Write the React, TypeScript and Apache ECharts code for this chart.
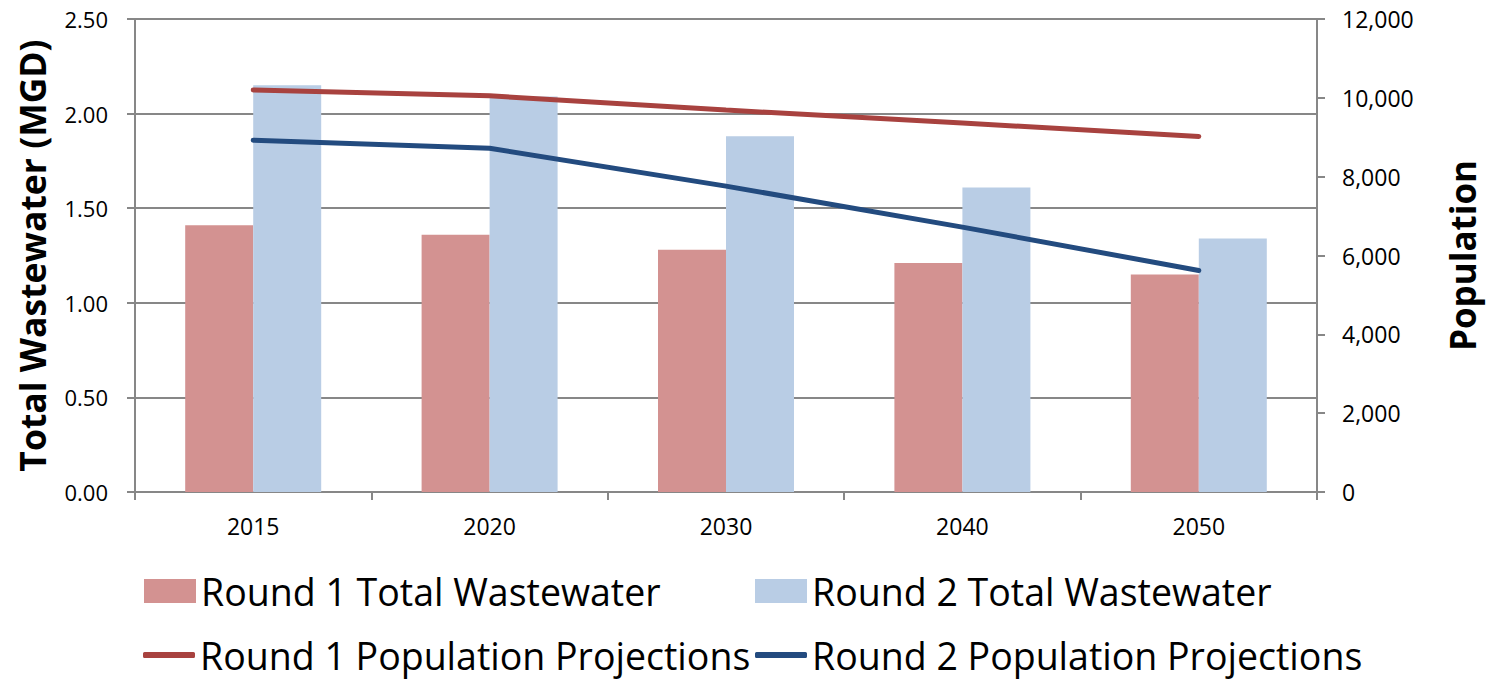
import React, { useEffect, useRef } from "react";
import * as echarts from "echarts";

const years = ["2015", "2020", "2030", "2040", "2050"];
const round1Wastewater = [1.41, 1.36, 1.28, 1.21, 1.15];
const round2Wastewater = [2.15, 2.09, 1.88, 1.61, 1.34];
const round1Population = [10200, 10050, 9690, 9360, 9020];
const round2Population = [8925, 8720, 7760, 6720, 5620];

const FONT = "'Open Sans', Lato, sans-serif";
const GRAY = "#878787";
const C_BAR1 = "#D39291";
const C_BAR2 = "#B9CDE5";
const C_LINE1 = "#A8423F";
const C_LINE2 = "#234B7F";

export default function App() {
  const ref = useRef<HTMLDivElement>(null);
  useEffect(() => {
    if (!ref.current) return;
    const chart = echarts.init(ref.current, undefined, { renderer: "svg" });
    const legendBase = {
      orient: "horizontal",
      padding: 0,
      itemWidth: 52,
      itemHeight: 24,
      itemGap: 0,
      textStyle: { fontSize: 37.5, lineHeight: 40, color: "#000", fontFamily: FONT },
      selectedMode: false,
    };
    chart.setOption({
      animation: false,
      backgroundColor: "#fff",
      textStyle: { fontFamily: FONT },
      grid: { left: 135, right: 165, top: 19, bottom: 189 },
      legend: [
        { ...legendBase, left: 144, top: 571, data: [{ name: "Round 1 Total Wastewater", icon: "rect" }] },
        { ...legendBase, left: 755, top: 571, data: [{ name: "Round 2 Total Wastewater", icon: "rect" }] },
        {
          ...legendBase,
          left: 143,
          top: 635,
          itemHeight: 6,
          data: [{ name: "Round 1 Population Projections", icon: "roundRect" }],
        },
        {
          ...legendBase,
          left: 755,
          top: 635,
          itemHeight: 6,
          data: [{ name: "Round 2 Population Projections", icon: "roundRect" }],
        },
      ],
      xAxis: {
        type: "category",
        data: years,
        boundaryGap: true,
        axisLine: { lineStyle: { color: GRAY, width: 2 } },
        axisTick: { show: true, alignWithLabel: false, length: 8, lineStyle: { color: GRAY, width: 2 } },
        axisLabel: { color: "#000", fontSize: 23, margin: 22, fontFamily: FONT },
      },
      yAxis: [
        {
          type: "value",
          min: 0,
          max: 2.5,
          interval: 0.5,
          position: "left",
          name: "Total Wastewater (MGD)",
          nameLocation: "middle",
          nameRotate: 90,
          nameGap: 85,
          nameTextStyle: { fontSize: 35.5, fontWeight: "bold", color: "#000", fontFamily: FONT },
          axisLine: { show: true, lineStyle: { color: GRAY, width: 2 } },
          axisTick: { show: true, length: 8, lineStyle: { color: GRAY, width: 2 } },
          axisLabel: {
            color: "#000",
            fontSize: 22,
            margin: 27,
            fontFamily: FONT,
            formatter: (v: number) => v.toFixed(2),
          },
          splitLine: { show: true, lineStyle: { color: GRAY, width: 2 } },
        },
        {
          type: "value",
          min: 0,
          max: 12000,
          interval: 2000,
          position: "right",
          name: "Population",
          nameLocation: "middle",
          nameRotate: 90,
          nameGap: 128,
          nameTextStyle: { fontSize: 35, fontWeight: "bold", color: "#000", fontFamily: FONT },
          axisLine: { show: true, lineStyle: { color: GRAY, width: 2 } },
          axisTick: { show: true, length: 8, lineStyle: { color: GRAY, width: 2 } },
          axisLabel: {
            color: "#000",
            fontSize: 23,
            margin: 25,
            fontFamily: FONT,
            formatter: (v: number) => v.toLocaleString("en-US"),
          },
          splitLine: { show: false },
        },
      ],
      series: [
        {
          name: "Round 1 Total Wastewater",
          type: "bar",
          data: round1Wastewater,
          barWidth: 68,
          barGap: "0%",
          itemStyle: { color: C_BAR1 },
        },
        {
          name: "Round 2 Total Wastewater",
          type: "bar",
          data: round2Wastewater,
          barWidth: 68,
          barGap: "0%",
          itemStyle: { color: C_BAR2 },
        },
        {
          name: "Round 1 Population Projections",
          type: "line",
          yAxisIndex: 1,
          data: round1Population,
          symbol: "none",
          lineStyle: { color: C_LINE1, width: 5, cap: "round" },
          itemStyle: { color: C_LINE1 },
        },
        {
          name: "Round 2 Population Projections",
          type: "line",
          yAxisIndex: 1,
          data: round2Population,
          symbol: "none",
          lineStyle: { color: C_LINE2, width: 5, cap: "round" },
          itemStyle: { color: C_LINE2 },
        },
      ],
    });
    return () => chart.dispose();
  }, []);
  return (
    <div
      ref={ref}
      style={{ position: "absolute", left: 0, top: 0, width: 1488, height: 681 }}
    />
  );
}
